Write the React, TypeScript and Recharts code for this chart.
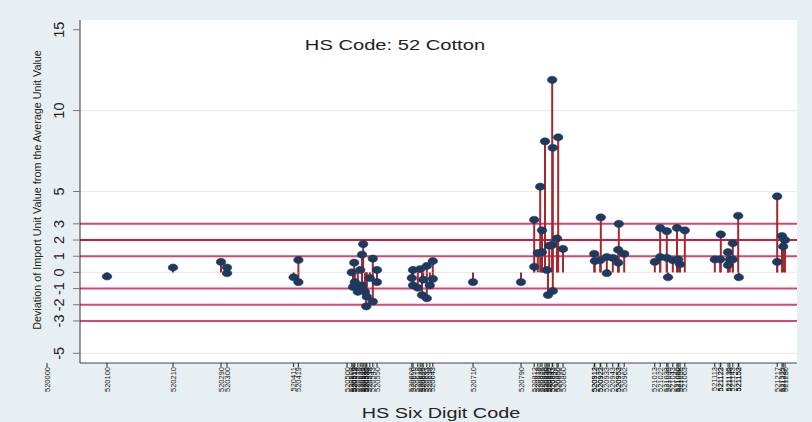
import React from 'react';
import { ScatterChart, Scatter, XAxis, YAxis, ReferenceLine, ErrorBar, CartesianGrid, Customized } from 'recharts';

// ---- data (HS six-digit code, deviation value) ----
const codesSingle = [520100, 520210, 520290, 520300, 520300, 520411, 520419, 520419, 520710, 520790];
const valuesSingle = [-0.25, 0.3, 0.65, 0.3, -0.05, -0.3, 0.77, -0.6, -0.6, -0.6];

const codes5205 = [520527, 520525, 520512, 520543, 520550, 520508, 520513, 520510, 520525, 520530, 520533, 520532, 520543, 520550, 520522, 520538, 520518];
const values5205 = [1.75, 1.1, 0.6, 0.85, 0.15, 0.0, -0.6, -0.9, -0.8, -1.2, -1.5, -2.1, -1.8, -0.6, 0.15, -0.35, -1.2];

const codes5206 = [520643, 520633, 520610, 520622, 520608, 520643, 520610, 520618, 520625, 520633, 520627, 520638];
const values5206 = [0.7, 0.4, 0.15, 0.2, -0.35, -0.4, -0.8, -0.95, -1.4, -1.6, -0.45, -0.8];

const codes5208 = [520842, 520830, 520852, 520843, 520822, 520812, 520825, 520850, 520842, 520860, 520825, 520818, 520812, 520833, 520835, 520843, 520837];
const values5208 = [11.9, 8.1, 8.35, 7.7, 5.3, 3.25, 2.6, 2.1, 1.7, 1.45, 1.25, 1.2, 0.35, 0.15, -1.4, -1.15, 1.65];

const codes5209 = [520923, 520953, 520912, 520913, 520933, 520933, 520943, 520952, 520962, 520952, 520922];
const values5209 = [3.4, 3.0, 1.15, 0.7, 0.95, -0.05, 0.9, 1.4, 1.15, 0.6, 0.75];

const codes5210 = [521022, 521033, 521050, 521063, 521013, 521022, 521035, 521033, 521043, 521055, 521052];
const values5210 = [2.75, 2.55, 2.75, 2.6, 0.65, 0.95, -0.3, 0.9, 0.75, 0.5, 0.8];

const codes5211 = [521123, 521152, 521113, 521122, 521135, 521143, 521138, 521135, 521153, 521143];
const values5211 = [2.35, 3.5, 0.8, 0.8, 1.25, 1.8, 0.8, 0.45, -0.3, 0.8];

const codes5212 = [521217, 521217, 521225, 521230, 521227];
const values5212 = [4.7, 0.65, 2.25, 2.0, 1.6];

const xTickCodes = [
  520000, 520100, 520210, 520290, 520300, 520411, 520419,
  520500, 520508, 520510, 520512, 520513, 520518, 520522, 520525, 520527, 520530, 520532, 520533, 520538, 520543, 520550,
  520608, 520610, 520618, 520622, 520625, 520627, 520633, 520638, 520643,
  520710, 520790,
  520812, 520818, 520822, 520825, 520830, 520833, 520835, 520837, 520842, 520843, 520850, 520852, 520860,
  520912, 520913, 520922, 520923, 520933, 520943, 520952, 520953, 520962,
  521013, 521022, 521033, 521035, 521043, 521050, 521052, 521055, 521063,
  521113, 521122, 521123, 521135, 521138, 521143, 521152, 521153,
  521217, 521225, 521227, 521230,
];
const yTicks = [-5, -3, -2, -1, 0, 1, 2, 3, 5, 10, 15];
const bandLines = [3, 2, 1, -1, -2, -3];
const gridLines = [-5, 0, 5, 10];

const groups: [number[], number[]][] = [
  [codesSingle, valuesSingle],
  [codes5205, values5205],
  [codes5206, values5206],
  [codes5208, values5208],
  [codes5209, values5209],
  [codes5210, values5210],
  [codes5211, values5211],
  [codes5212, values5212],
];
const points = groups.flatMap(([c, v]) => c.map((code, i) => ({ code, value: v[i] })));

const FONT = '"Liberation Sans", Arial, Helvetica, sans-serif';

const XTick = (props: any) => {
  const { x, payload } = props;
  return (
    <text
      transform={`translate(${x},367) rotate(-90)`}
      textAnchor="end"
      dy="0.35em"
      fontSize={7.5}
      fontFamily={FONT}
      fill="#111"
    >
      {payload.value}
    </text>
  );
};

const YTick = (props: any) => {
  const { y, payload } = props;
  return (
    <text
      transform={`translate(59,${y}) rotate(-90)`}
      textAnchor="middle"
      dy="0.35em"
      fontSize={14.5}
      fontFamily={FONT}
      fill="#222"
    >
      {payload.value}
    </text>
  );
};

const Marker = (props: any) => {
  const { cx, cy } = props;
  if (cx == null || cy == null) return <g />;
  return <ellipse cx={cx} cy={cy} rx={4.8} ry={3.6} fill="#1e3a5f" stroke="#1a3556" strokeWidth={0.5} />;
};

const Empty = () => <g />;

const Titles = () => (
  <g fontFamily={FONT} fill="#222">
    <text x={395} y={50} textAnchor="middle" fontSize={15.5} transform="translate(395,0) scale(1.3,1) translate(-395,0)">
      HS Code: 52 Cotton
    </text>
    <text x={441} y={418} textAnchor="middle" fontSize={15} transform="translate(441,0) scale(1.32,1) translate(-441,0)">
      HS Six Digit Code
    </text>
    <text transform="translate(37,190) rotate(-90)" textAnchor="middle" dy="0.35em" fontSize={10.8}>
      Deviation of Import Unit Value from the Average Unit Value
    </text>
  </g>
);

export default function App() {
  return (
    <div style={{ position: 'absolute', left: 0, top: 0, width: 812, height: 422, background: '#e8eff2' }}>
      <ScatterChart width={812} height={422} margin={{ top: 20, right: 15, bottom: 0, left: 0 }}>
        <CartesianGrid fill="#ffffff" horizontal={false} vertical={false} stroke="none" />
        {gridLines.map((v) => (
          <ReferenceLine key={'g' + v} y={v} stroke="#ececec" strokeWidth={1.2} />
        ))}
        {bandLines.map((v) => (
          <ReferenceLine key={'b' + v} y={v} stroke={v === 2 ? '#c41e45' : '#d9466f'} strokeWidth={2} />
        ))}
        <XAxis
          type="number"
          dataKey="code"
          domain={[520055, 521250]}
          allowDataOverflow
          ticks={xTickCodes}
          interval={0}
          height={59}
          tick={<XTick />}
          tickSize={4}
          tickLine={{ stroke: '#222', strokeWidth: 1 }}
          axisLine={{ stroke: '#444', strokeWidth: 1 }}
        />
        <YAxis
          type="number"
          dataKey="value"
          domain={[-5.6, 15.6]}
          allowDataOverflow
          ticks={yTicks}
          interval={0}
          width={80}
          tick={<YTick />}
          tickSize={7}
          tickLine={{ stroke: '#777', strokeWidth: 1 }}
          axisLine={{ stroke: '#333', strokeWidth: 1 }}
        />
        <Scatter data={points} shape={<Marker />} isAnimationActive={false} />
        <Scatter data={points} shape={<Empty />} isAnimationActive={false}>
          <ErrorBar
            dataKey={(d: any) => (d.value >= 0 ? [d.value, 0] : [0, -d.value])}
            direction="y"
            width={0}
            stroke="#a3282f"
            strokeWidth={2}
            isAnimationActive={false}
          />
        </Scatter>
        <Customized component={Titles} />
      </ScatterChart>
    </div>
  );
}
